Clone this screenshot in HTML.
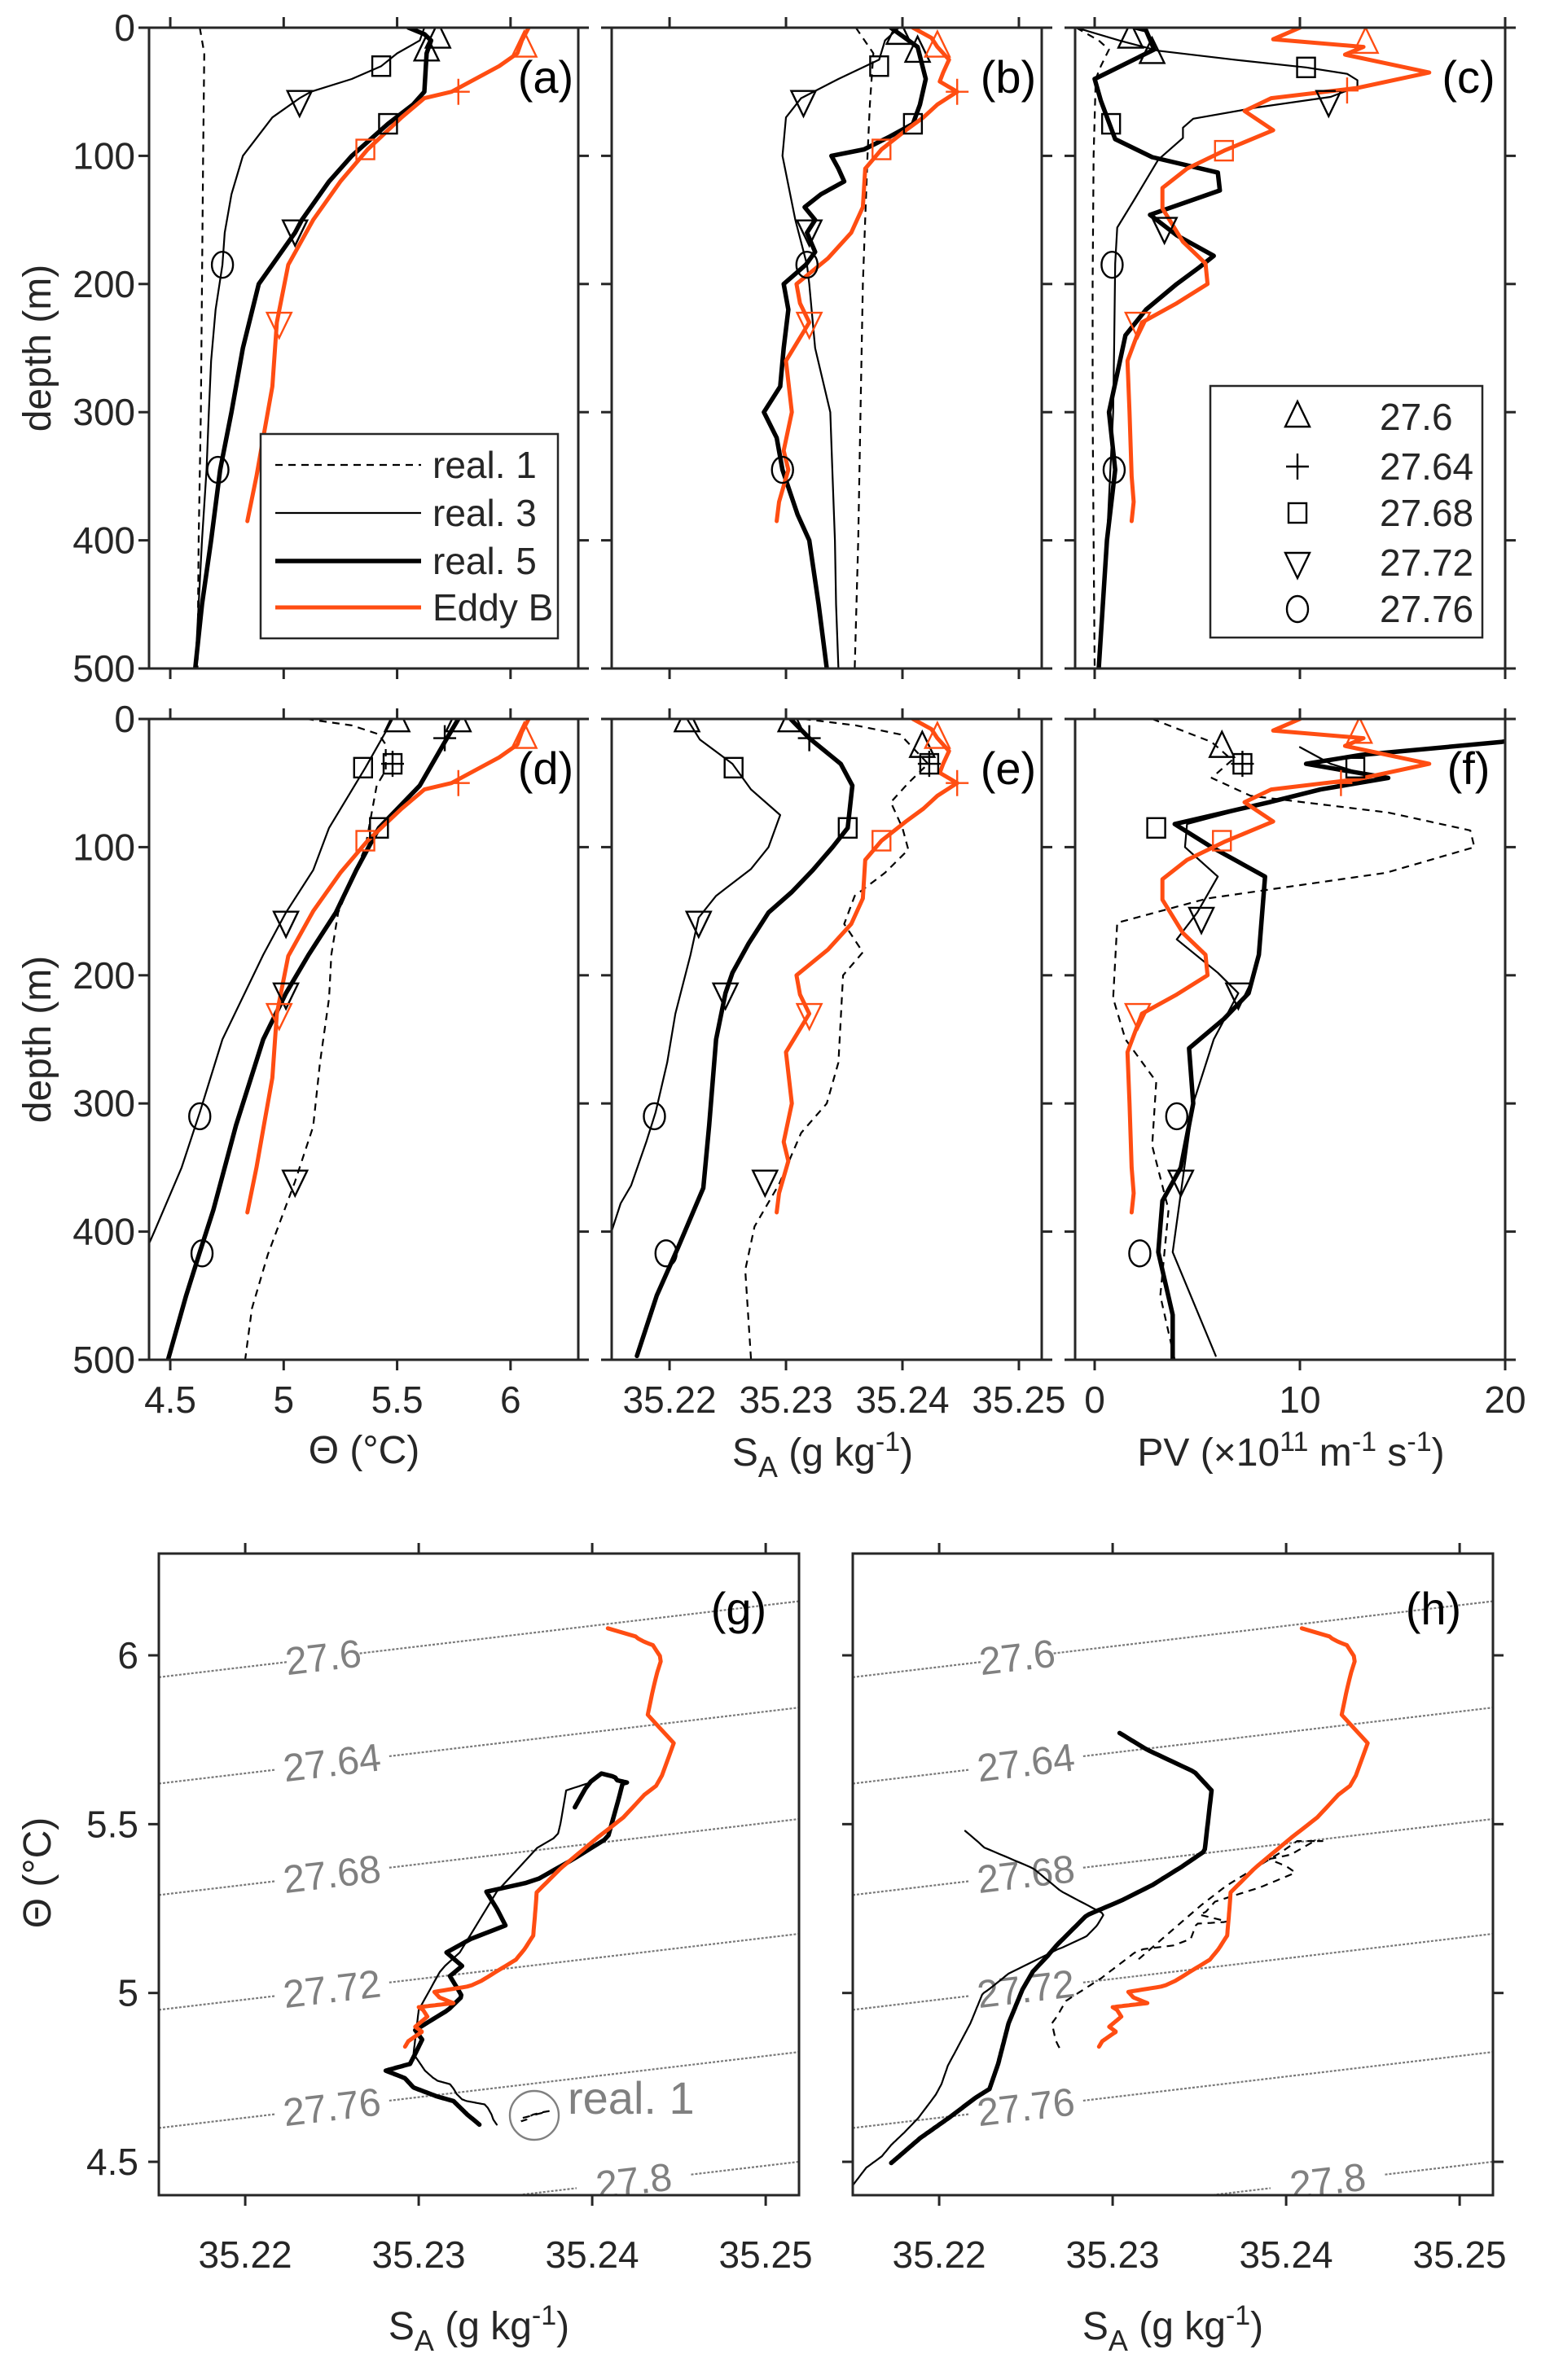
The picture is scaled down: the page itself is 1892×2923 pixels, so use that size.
<!DOCTYPE html>
<html><head><meta charset="utf-8"><title>Profiles and TS diagrams</title>
<style>
html,body{margin:0;padding:0;background:#fff;}
svg{display:block;font-family:"Liberation Sans",Arial,sans-serif;}
</style></head>
<body>
<svg id="fig" width="1892" height="2923" viewBox="0 0 1892 2923" xmlns="http://www.w3.org/2000/svg">
<rect x="0" y="0" width="1892" height="2923" fill="#fff"/>
<g id="layer"></g>
</svg>
<script>
// ---------------- DATA ----------------
// Row 1 (panels a,b,c)
const r1Real1TDepth=[0,20,100,200,300,400,500];
const r1Real1T=[4.63,4.65,4.645,4.64,4.635,4.625,4.62];
const r1Real1SDepth=[0,20,60,100,200,300,400,500];
const r1Real1S=[35.2360,35.2375,35.2372,35.2370,35.2366,35.2364,35.2362,35.2359];
const r1Real1PVDepth=[0,10,17,30,40,100,200,300,400,500];
const r1Real1PV=[-0.9,0.2,0.7,0.3,0.05,-0.05,-0.1,-0.1,-0.05,0];

const r1Real3TDepth=[0,10,20,30,40,50,55,70,100,130,160,185,220,260,300,345,400,450,500];
const r1Real3T=[5.62,5.6,5.5,5.43,5.3,5.12,5.07,4.95,4.82,4.77,4.74,4.73,4.7,4.68,4.67,4.66,4.64,4.625,4.61];
const r1Real3SDepth=[0,10,25,40,55,70,100,150,185,200,250,300,350,400,450,500];
const r1Real3S=[35.2397,35.2385,35.2380,35.2345,35.2313,35.2300,35.2297,35.2308,35.2318,35.2320,35.2325,35.2338,35.2340,35.2342,35.2343,35.2345];
const r1Real3PVDepth=[0,10,18,25,31,36,41,46,54,62,71,78,86,103,135,156,184,250,300,400,500];
const r1Real3PV=[-0.9,1.2,3.1,6.8,10.3,12.3,12.8,12.8,11.5,8.0,4.8,4.3,4.3,3.1,1.9,1.1,1.0,0.95,0.9,0.6,0.2];

const r1Real5TDepth=[0,5,10,20,50,60,75,100,120,150,160,185,200,250,300,345,400,450,500];
const r1Real5T=[5.55,5.62,5.65,5.63,5.62,5.57,5.46,5.30,5.2,5.08,5.05,4.95,4.89,4.82,4.77,4.72,4.68,4.64,4.61];
const r1Real5SDepth=[0,15,40,60,75,85,95,100,110,120,130,140,150,160,175,185,200,220,250,280,300,320,345,380,400,450,500];
const r1Real5S=[35.239,35.2413,35.242,35.2415,35.2409,35.2389,35.2367,35.2339,35.2345,35.235,35.233,35.2316,35.2325,35.2318,35.2325,35.2317,35.2298,35.2302,35.2298,35.2295,35.2281,35.2292,35.2297,35.2310,35.2320,35.2328,35.2335];
const r1Real5PVDepth=[0,2,17,40,57,87,101,113,127,146,162,178,187,200,220,240,300,345,400,500];
const r1Real5PV=[2.0,2.5,2.9,0.0,0.3,1.0,2.8,6.0,6.1,2.7,4.0,5.8,5.1,4.0,2.5,1.5,0.7,1.0,0.6,0.2];

// Eddy B (same in both rows)
const eddyTDepth=[0,10,20,30,50,55,70,95,120,150,185,230,280,320,350,385];
const eddyT=[6.08,6.05,6.03,5.95,5.74,5.62,5.52,5.37,5.25,5.13,5.02,4.97,4.95,4.91,4.88,4.84];
const eddySDepth=[0,8,15,25,35,42,50,60,70,80,95,110,140,160,180,200,215,230,260,300,330,345,370,385];
const eddyS=[35.2409,35.2425,35.2430,35.2440,35.2435,35.2432,35.2447,35.2430,35.2418,35.2403,35.2382,35.2368,35.2366,35.2356,35.2336,35.2309,35.2312,35.2320,35.2300,35.2305,35.2298,35.2302,35.2294,35.2292];
const eddyPVDepth=[0,9,15,21,35,47,55,65,80,96,110,125,141,167,184,200,215,230,260,300,350,370,385];
const eddyPV=[10.0,8.7,13.1,12.2,16.3,12.8,8.6,7.3,8.7,6.3,4.5,3.3,3.3,4.3,5.4,5.5,4.0,2.3,1.6,1.7,1.8,1.9,1.8];

// Row 2 (panels d,e,f)
const r2Real1TDepth=[0,5,12,20,40,52,100,151,184,218,268,318,361,418,460,500];
const r2Real1T=[5.10,5.30,5.42,5.45,5.45,5.41,5.36,5.24,5.21,5.20,5.16,5.13,5.05,4.93,4.86,4.83];
const r2Real1SDepth=[0,5,12,35,50,65,85,102,120,138,160,182,200,268,300,323,363,396,430,500];
const r2Real1S=[35.2315,35.2360,35.2398,35.2422,35.2405,35.2390,35.2400,35.2405,35.2385,35.2359,35.2350,35.2366,35.2349,35.2345,35.2335,35.2313,35.2294,35.2273,35.2265,35.2270];
const r2Real1PVDepth=[0,18,32,46,60,73,87,100,120,140,159,218,250,283,333,383,450,500];
const r2Real1PV=[2.8,5.7,6.7,5.7,7.6,14.3,18.3,18.5,14.2,5.5,1.1,0.9,1.5,3.0,2.8,3.6,3.2,3.9];

const r2Real3TDepth=[0,10,38,85,118,151,184,250,307,350,400,420];
const r2Real3T=[5.48,5.45,5.36,5.20,5.13,5.01,4.91,4.73,4.63,4.55,4.43,4.38];
const r2Real3SDepth=[0,16,35,55,75,100,117,138,155,184,230,268,307,330,364,378,420];
const r2Real3S=[35.2215,35.2226,35.2254,35.2270,35.2295,35.2285,35.2270,35.2240,35.2225,35.2218,35.2205,35.2198,35.2188,35.2180,35.2167,35.2158,35.2143];
const r2Real3PVDepth=[22,35,45,55,65,82,100,123,151,172,198,214,250,300,416,497];
const r2Real3PV=[10.0,11.5,13.5,11.0,8.5,4.5,4.4,6.0,5.0,4.0,6.0,7.0,5.8,4.8,3.8,5.9];

const r2Real5TDepth=[0,15,52,85,118,151,184,214,250,317,383,416,450,500];
const r2Real5T=[5.77,5.72,5.60,5.42,5.32,5.23,5.11,5.01,4.91,4.79,4.69,4.63,4.57,4.49];
const r2Real5SDepth=[0,15,35,52,85,100,118,135,151,175,198,214,250,317,366,413,450,497];
const r2Real5S=[35.2304,35.2320,35.2347,35.2357,35.2353,35.2340,35.2323,35.2305,35.2285,35.2268,35.2254,35.2248,35.2240,35.2234,35.2229,35.2207,35.2189,35.2172];
const r2Real5PVDepth=[12,18,28,35,46,55,65,82,100,123,184,214,234,257,300,350,376,416,465,500];
const r2Real5PV=[22,19.8,13,10.3,14.3,11,8.5,3.9,5.7,8.3,8.0,7.5,6.3,4.6,4.8,4.2,3.3,3.1,3.8,3.8];

// Isopycnals (TS panels)
const sigmaLabels=['27.6','27.64','27.68','27.72','27.76','27.8'];
const sigmaTheta0=[5.935,5.62,5.29,4.95,4.60,4.275];   // theta at S=35.215
const sigmaSlope=[6.1,6.1,6.1,6.1,6.1,6.1];            // dTheta/dS
const sigmaLabelS=[35.2245,35.225,35.225,35.225,35.225,35.2424];

// Markers: [symbol, value, depth, colour]
const markersA=[['tu',5.68,8,'k'],['tu',5.63,18,'k'],['sq',5.43,30,'k'],['sq',5.46,75,'k'],['td',5.07,57,'k'],['td',5.05,158,'k'],['ci',4.73,185,'k'],['ci',4.71,345,'k'],['tu',6.06,15,'o'],['pl',5.77,50,'o'],['sq',5.36,95,'o'],['td',4.98,230,'o']];
const markersB=[['tu',35.2397,5,'k'],['tu',35.2413,19,'k'],['sq',35.2380,30,'k'],['sq',35.2409,75,'k'],['td',35.2315,57,'k'],['td',35.2320,158,'k'],['ci',35.2318,185,'k'],['ci',35.2297,345,'k'],['tu',35.2430,15,'o'],['pl',35.2447,50,'o'],['sq',35.2382,95,'o'],['td',35.2320,230,'o']];
const markersC=[['tu',1.75,8,'k'],['tu',2.8,20,'k'],['sq',10.3,31,'k'],['sq',0.8,75,'k'],['td',11.4,57,'k'],['td',3.4,156,'k'],['ci',0.85,185,'k'],['ci',0.95,345,'k'],['tu',13.2,12,'o'],['pl',12.3,49,'o'],['sq',6.3,96,'o'],['td',2.1,230,'o']];
const markersD=[['tu',5.50,2,'k'],['tu',5.77,2,'k'],['pl',5.71,15,'k'],['sq',5.48,35,'k'],['pl',5.48,35,'k'],['sq',5.35,38,'k'],['sq',5.42,85,'k'],['td',5.01,158,'k'],['td',5.01,214,'k'],['td',5.05,360,'k'],['ci',4.63,310,'k'],['ci',4.64,417,'k'],['tu',6.06,15,'o'],['pl',5.77,50,'o'],['sq',5.36,95,'o'],['td',4.98,230,'o']];
const markersE=[['tu',35.2215,2,'k'],['tu',35.2304,2,'k'],['tu',35.2417,22,'k'],['pl',35.2320,15,'k'],['sq',35.2423,35,'k'],['pl',35.2423,35,'k'],['sq',35.2255,38,'k'],['sq',35.2353,85,'k'],['td',35.2225,158,'k'],['td',35.2248,214,'k'],['td',35.2282,360,'k'],['ci',35.2187,310,'k'],['ci',35.2197,417,'k'],['tu',35.2430,15,'o'],['pl',35.2447,50,'o'],['sq',35.2382,95,'o'],['td',35.2320,230,'o']];
const markersF=[['tu',6.2,22,'k'],['sq',7.2,35,'k'],['pl',7.2,35,'k'],['sq',12.7,38,'k'],['sq',3.0,85,'k'],['td',5.2,155,'k'],['td',7.0,214,'k'],['td',4.2,360,'k'],['ci',4.0,310,'k'],['ci',2.2,417,'k'],['tu',12.9,11,'o'],['pl',12.0,50,'o'],['sq',6.2,95,'o'],['td',2.1,230,'o']];

// Tick labels
const thetaTicks=[4.5,5,5.5,6];
const thetaTickLabels=['4.5','5','5.5','6'];
const saltTicks=[35.22,35.23,35.24,35.25];
const saltTickLabels=['35.22','35.23','35.24','35.25'];
const pvTicks=[0,10,20];
const pvTickLabels=['0','10','20'];
const depthTicks=[0,100,200,300,400,500];
const depthTickLabels=['0','100','200','300','400','500'];
const tsThetaTicks=[4.5,5,5.5,6];
const tsThetaTickLabels=['4.5','5','5.5','6'];

// ---------------- DRAWING ----------------
const NS='http://www.w3.org/2000/svg';
const layer=document.getElementById('layer');
const ORANGE='#ff4d12';
const AX='#262626';
function mk(tag,attrs,parent){const e=document.createElementNS(NS,tag);for(const k in attrs)e.setAttribute(k,attrs[k]);(parent||layer).appendChild(e);return e;}
function interp(ds,vs,d){if(d<ds[0]||d>ds[ds.length-1])return null;for(let i=0;i<ds.length-1;i++){if(d>=ds[i]&&d<=ds[i+1]){const t=(d-ds[i])/(ds[i+1]-ds[i]||1);return vs[i]+t*(vs[i+1]-vs[i]);}}return vs[vs.length-1];}

function makePanel(id,x0,x1,y0,y1,xd,yd,yInverted){
  const sx=v=>x0+(v-xd[0])/(xd[1]-xd[0])*(x1-x0);
  const sy=yInverted?(v=>y0+(v-yd[0])/(yd[1]-yd[0])*(y1-y0)):(v=>y1-(v-yd[0])/(yd[1]-yd[0])*(y1-y0));
  const cp=mk('clipPath',{id:'clip-'+id});
  mk('rect',{x:x0,y:y0,width:x1-x0,height:y1-y0},cp);
  const g=mk('g',{'clip-path':'url(#clip-'+id+')'});
  
  
  return {id,x0,x1,y0,y1,sx,sy,g};
}
function frame(p,xt,yt,left,right){
  const f=mk('rect',{x:p.x0,y:p.y0,width:p.x1-p.x0,height:p.y1-p.y0,fill:'none',stroke:AX,'stroke-width':3});
  
  
  const tg=mk('g',{stroke:AX,'stroke-width':3});
  
  
  const L=13;
  xt.forEach(v=>{const x=p.sx(v);mk('line',{x1:x,x2:x,y1:p.y0,y2:p.y0-L},tg);mk('line',{x1:x,x2:x,y1:p.y1,y2:p.y1+L},tg);});
  yt.forEach(v=>{const y=p.sy(v);if(left)mk('line',{x1:p.x0,x2:p.x0-L,y1:y,y2:y},tg);if(right)mk('line',{x1:p.x1,x2:p.x1+L,y1:y,y2:y},tg);});
}
function txt(s,x,y,o){const t=mk('text',Object.assign({x:x,y:y,'font-size':46,fill:AX},o||{}));t.textContent=s;return t;}
function line(p,pts,style,name){
  const d=pts.filter(q=>q).map((q,i)=>(i?'L':'M')+q[0].toFixed(1)+','+q[1].toFixed(1)).join('');
  const el=mk('path',Object.assign({d:d,fill:'none','stroke-linejoin':'round','stroke-linecap':'round'},style),p.g);
  
  
  return el;
}
const STY={
  real1:{stroke:'#000','stroke-width':2.2,'stroke-dasharray':'9,7','stroke-linecap':'butt'},
  real3:{stroke:'#000','stroke-width':2.2},
  real5:{stroke:'#000','stroke-width':5.5},
  eddy:{stroke:ORANGE,'stroke-width':5}
};
function profile(p,ds,vs,sty,name){line(p,ds.map((d,i)=>[p.sx(vs[i]),p.sy(d)]),sty,name);}
function marker(type,x,y,col,parent,name){
  const c=col==='o'?ORANGE:'#000';
  const st={fill:'none',stroke:c,'stroke-width':2.4};
  let el;
  if(type==='tu')el=mk('polygon',Object.assign({points:`${x},${y-19} ${x-15},${y+12} ${x+15},${y+12}`},st),parent);
  else if(type==='td')el=mk('polygon',Object.assign({points:`${x},${y+19} ${x-15},${y-12} ${x+15},${y-12}`},st),parent);
  else if(type==='sq')el=mk('rect',Object.assign({x:x-11,y:y-12,width:22,height:24},st),parent);
  else if(type==='ci')el=mk('ellipse',Object.assign({cx:x,cy:y,rx:13,ry:16},st),parent);
  else el=mk('path',Object.assign({d:`M${x-14},${y}H${x+14}M${x},${y-16}V${y+16}`},st),parent);
  
  
}
function markers(p,list){list.forEach(m=>marker(m[0],p.sx(m[1]),p.sy(m[2]),m[3],p.g,'marker-'+p.id));}
function letter(s,x,y,name){const t=txt(s,x,y,{'font-size':56,'text-anchor':'middle',fill:'#000'});}

// Profile panels geometry
const R1=[34,821], R2=[883,1670];
const XA=[183,710], XB=[751,1279], XC=[1320,1848];
const DA=[4.4065,6.2986], DB=[35.21503,35.25196], DC=[-0.952,20.0];
const rows=[
 {y:R1,ids:['a','b','c'],
  T:[[r1Real1TDepth,r1Real1T],[r1Real3TDepth,r1Real3T],[r1Real5TDepth,r1Real5T]],
  S:[[r1Real1SDepth,r1Real1S],[r1Real3SDepth,r1Real3S],[r1Real5SDepth,r1Real5S]],
  P:[[r1Real1PVDepth,r1Real1PV],[r1Real3PVDepth,r1Real3PV],[r1Real5PVDepth,r1Real5PV]],
  mk:[markersA,markersB,markersC]},
 {y:R2,ids:['d','e','f'],
  T:[[r2Real1TDepth,r2Real1T],[r2Real3TDepth,r2Real3T],[r2Real5TDepth,r2Real5T]],
  S:[[r2Real1SDepth,r2Real1S],[r2Real3SDepth,r2Real3S],[r2Real5SDepth,r2Real5S]],
  P:[[r2Real1PVDepth,r2Real1PV],[r2Real3PVDepth,r2Real3PV],[r2Real5PVDepth,r2Real5PV]],
  mk:[markersD,markersE,markersF]}
];
const serNames=['real1','real3','real5'];
rows.forEach((r,ri)=>{
  const pa=makePanel(r.ids[0],XA[0],XA[1],r.y[0],r.y[1],DA,[0,500],true);
  const pb=makePanel(r.ids[1],XB[0],XB[1],r.y[0],r.y[1],DB,[0,500],true);
  const pc=makePanel(r.ids[2],XC[0],XC[1],r.y[0],r.y[1],DC,[0,500],true);
  [[pa,r.T,eddyTDepth,eddyT,thetaTicks],[pb,r.S,eddySDepth,eddyS,saltTicks],[pc,r.P,eddyPVDepth,eddyPV,pvTicks]].forEach(([p,arr,ed,ev,xt],k)=>{
    arr.forEach((s,i)=>profile(p,s[0],s[1],STY[serNames[i]],serNames[i]+'-line-'+p.id));
    profile(p,ed,ev,STY.eddy,'eddy-b-line-'+p.id);
    markers(p,r.mk[k]);
    frame(p,xt,depthTicks,true,true);
  });
  depthTicks.forEach((d,i)=>{const t=txt(depthTickLabels[i],166,pa.sy(d)+16,{'text-anchor':'end'});});
  const yl=txt('depth (m)',0,0,{'text-anchor':'middle','font-size':48,transform:`translate(62,${(r.y[0]+r.y[1])/2}) rotate(-90)`});
  
  
  letter('('+r.ids[0]+')',670,r.y[0]+80,'panel-label-'+r.ids[0]);
  letter('('+r.ids[1]+')',1238,r.y[0]+80,'panel-label-'+r.ids[1]);
  letter('('+r.ids[2]+')',1803,r.y[0]+80,'panel-label-'+r.ids[2]);
  if(ri===1){
    thetaTicks.forEach((v,i)=>{const t=txt(thetaTickLabels[i],pa.sx(v),1735,{'text-anchor':'middle'});});
    saltTicks.forEach((v,i)=>{const t=txt(saltTickLabels[i],pb.sx(v),1735,{'text-anchor':'middle'});});
    pvTicks.forEach((v,i)=>{const t=txt(pvTickLabels[i],pc.sx(v),1735,{'text-anchor':'middle'});});
  }
});

// Legends
(function(){
  const lg=mk('g',{});
  
  
  mk('rect',{x:320,y:533,width:365,height:251,fill:'#fff',stroke:AX,'stroke-width':2.5},lg);
  const names=['real. 1','real. 3','real. 5','Eddy B'];
  const sty=[STY.real1,STY.real3,STY.real5,STY.eddy];
  const ys=[571,630,689,746];
  names.forEach((n,i)=>{
    const l=mk('line',Object.assign({x1:338,x2:517,y1:ys[i],y2:ys[i]},sty[i]),lg);
    
    
    const t=txt(n,531,ys[i]+16,{},);lg.appendChild(t);
    
    
  });
  const mg=mk('g',{});
  
  
  mk('rect',{x:1486,y:474,width:334,height:309,fill:'#fff',stroke:AX,'stroke-width':2.5},mg);
  const syms=['tu','pl','sq','td','ci'];
  const lab=['27.6','27.64','27.68','27.72','27.76'];
  const my=[512,573,630,691,748];
  syms.forEach((s,i)=>{
    marker(s,1593,my[i],'k',mg,'legend-marker');
    const t=txt(lab[i],1694,my[i]+16,{});mg.appendChild(t);
    
    
  });
})();

// Axis titles row 2
(function(){
  const t1=txt('Θ (°C)',447,1797,{'text-anchor':'middle','font-size':48});
  
  const t2=mk('text',{x:1010,y:1800,'font-size':48,'text-anchor':'middle',fill:AX});
  t2.innerHTML='S<tspan font-size="36" dy="14">A</tspan><tspan dy="-14"> (g kg</tspan><tspan font-size="34" dy="-18">-1</tspan><tspan dy="18">)</tspan>';
  
  const t3=mk('text',{x:1585,y:1800,'font-size':48,'text-anchor':'middle',fill:AX});
  t3.innerHTML='PV (×10<tspan font-size="34" dy="-18">11</tspan><tspan dy="18"> m</tspan><tspan font-size="34" dy="-18">-1</tspan><tspan dy="18"> s</tspan><tspan font-size="34" dy="-18">-1</tspan><tspan dy="18">)</tspan>';
  
})();

// TS panels
const TSX=[35.21502,35.25192], TSY=[4.4012,6.3014];
function tsCurve(p,Td,Tv,Sd,Sv,sty,name){
  const dmax=Math.min(Td[Td.length-1],Sd[Sd.length-1]);
  const dmin=Math.max(Td[0],Sd[0]);
  const pts=[];
  for(let d=dmin;d<=dmax+0.01;d+=2){const T=interp(Td,Tv,d),S=interp(Sd,Sv,d);if(T!==null&&S!==null)pts.push([p.sx(S),p.sy(T)]);}
  line(p,pts,sty,name);
}
function isopycnals(p){
  sigmaLabels.forEach((lab,i)=>{
    const f=S=>sigmaTheta0[i]+sigmaSlope[i]*(S-35.215);
    const Sc=sigmaLabelS[i], half=(i===0?0.0021:0.0033);
    const segs=[[TSX[0],Sc-half],[Sc+half,TSX[1]]];
    segs.forEach(sg=>{
      const l=mk('line',{x1:p.sx(sg[0]),y1:p.sy(f(sg[0])),x2:p.sx(sg[1]),y2:p.sy(f(sg[1])),stroke:'#7a7a7a','stroke-width':2.2,'stroke-dasharray':'3,2'},p.g);
      
      
    });
    const cx=p.sx(Sc), cy=p.sy(f(Sc));
    const ang=Math.atan2(p.sy(f(Sc+0.01))-cy,p.sx(Sc+0.01)-cx)*180/Math.PI;
    const t=mk('text',{x:0,y:16,'font-size':48,fill:'#808080','text-anchor':'middle',transform:`translate(${cx},${cy}) rotate(${ang})`},p.g);
    t.textContent=lab;
    
    
  });
}
const pg=makePanel('g',195,981,1908,2696,TSX,TSY,false);
const ph=makePanel('h',1047,1833,1908,2696,TSX,TSY,false);
isopycnals(pg);isopycnals(ph);
tsCurve(pg,r1Real1TDepth,r1Real1T,r1Real1SDepth,r1Real1S,STY.real1,'real1-ts-g');
tsCurve(pg,r1Real3TDepth,r1Real3T,r1Real3SDepth,r1Real3S,STY.real3,'real3-ts-g');
tsCurve(pg,r1Real5TDepth,r1Real5T,r1Real5SDepth,r1Real5S,STY.real5,'real5-ts-g');
tsCurve(pg,eddyTDepth,eddyT,eddySDepth,eddyS,STY.eddy,'eddy-b-ts-g');
tsCurve(ph,r2Real1TDepth,r2Real1T,r2Real1SDepth,r2Real1S,STY.real1,'real1-ts-h');
tsCurve(ph,r2Real3TDepth,r2Real3T,r2Real3SDepth,r2Real3S,STY.real3,'real3-ts-h');
tsCurve(ph,r2Real5TDepth,r2Real5T,r2Real5SDepth,r2Real5S,STY.real5,'real5-ts-h');
tsCurve(ph,eddyTDepth,eddyT,eddySDepth,eddyS,STY.eddy,'eddy-b-ts-h');
frame(pg,saltTicks,tsThetaTicks,true,false);
frame(ph,saltTicks,tsThetaTicks,true,true);
(function(){
  const c=mk('circle',{cx:656,cy:2598,r:30,fill:'none',stroke:'#808080','stroke-width':2.4});
  
  const t=txt('real. 1',697,2596,{'font-size':56,fill:'#808080'});
  
  tsThetaTicks.forEach((v,i)=>{const l=txt(tsThetaTickLabels[i],170,pg.sy(v)+16,{'text-anchor':'end'});});
  [pg,ph].forEach(p=>{
    saltTicks.forEach((v,i)=>{const l=txt(saltTickLabels[i],p.sx(v),2785,{'text-anchor':'middle'});});
    const xt=mk('text',{x:(p.x0+p.x1)/2,y:2873,'font-size':48,'text-anchor':'middle',fill:AX});
    xt.innerHTML='S<tspan font-size="36" dy="14">A</tspan><tspan dy="-14"> (g kg</tspan><tspan font-size="34" dy="-18">-1</tspan><tspan dy="18">)</tspan>';
    
  });
  const yl=txt('Θ (°C)',0,0,{'text-anchor':'middle','font-size':48,transform:'translate(62,2300) rotate(-90)'});
  
  letter('(g)',907,1995,'panel-label-g');
  letter('(h)',1760,1995,'panel-label-h');
})();
</script>
</body></html>
